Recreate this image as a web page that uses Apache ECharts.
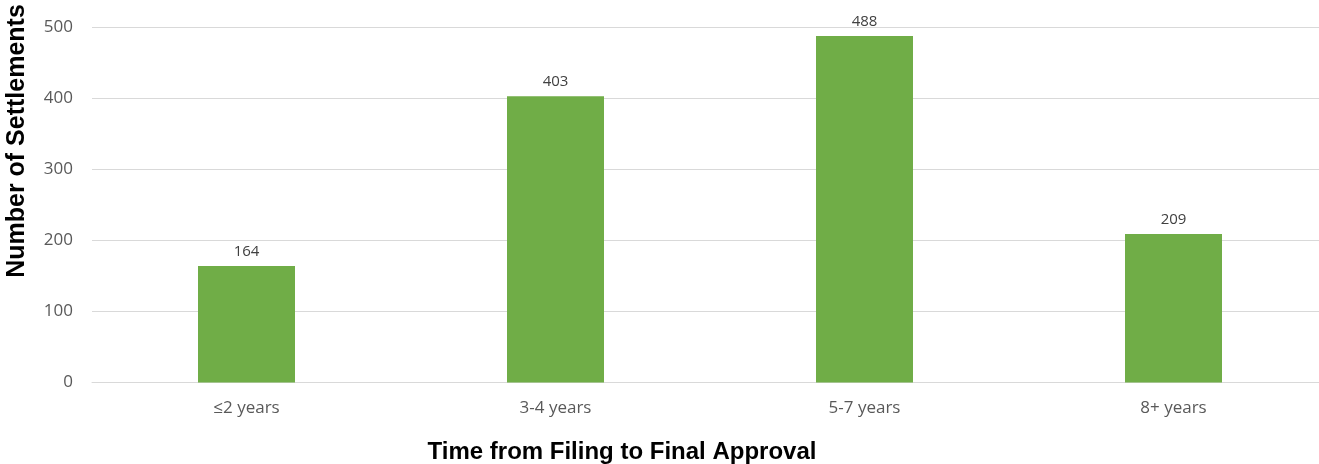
<!DOCTYPE html>
<html>
<head>
<meta charset="utf-8">
<script src="https://cdn.jsdelivr.net/npm/echarts@6/dist/echarts.min.js"></script>
<style>
html,body{margin:0;padding:0;background:#fff;overflow:hidden;width:1319px;height:464px;}
#chart{width:1328px;height:464px;}
</style>
</head>
<body>
<div id="chart"></div>
<script>
const categories = ['≤2 years', '3-4 years', '5-7 years', '8+ years'];
const settlements = [164, 403, 488, 209];
const yTicks = [0, 100, 200, 300, 400, 500];
const xTitle = 'Time from Filing to Final Approval';
const yTitle = 'Number of Settlements';

const chart = echarts.init(document.getElementById('chart'), null, {renderer: 'canvas'});
chart.setOption({
  animation: false,
  backgroundColor: '#ffffff',
  grid: {left: 92, top: 27.5, right: 0, height: 355, containLabel: false},
  xAxis: {
    type: 'category',
    data: categories,
    axisLine: {show: true, lineStyle: {color: '#d9d9d9', width: 1}},
    axisTick: {show: false},
    axisLabel: {color: '#595959', fontSize: 17, fontFamily: 'Open Sans, Liberation Sans, sans-serif', margin: 17}
  },
  yAxis: {
    type: 'value',
    min: yTicks[0],
    max: yTicks[yTicks.length - 1],
    interval: 100,
    axisLine: {show: false},
    axisTick: {show: false},
    splitLine: {lineStyle: {color: '#d9d9d9', width: 1}},
    axisLabel: {color: '#595959', fontSize: 17, fontFamily: 'Open Sans, Liberation Sans, sans-serif', margin: 19}
  },
  series: [{
    type: 'bar',
    data: settlements,
    barWidth: 97,
    itemStyle: {color: '#70ad47'},
    label: {show: true, position: 'top', distance: 7, color: '#404040', fontSize: 15, fontFamily: 'Open Sans, Liberation Sans, sans-serif'}
  }],
  graphic: [
    {type: 'text', x: 622, y: 452,
     style: {text: xTitle, font: 'bold 24px "Liberation Sans", Arial, sans-serif', fill: '#000', align: 'center', verticalAlign: 'middle'}},
    {type: 'text', x: 17, y: 141, rotation: Math.PI / 2,
     style: {text: yTitle, font: 'bold 25px "Liberation Sans", Arial, sans-serif', fill: '#000', align: 'center', verticalAlign: 'middle'}}
  ]
});
</script>
</body>
</html>
